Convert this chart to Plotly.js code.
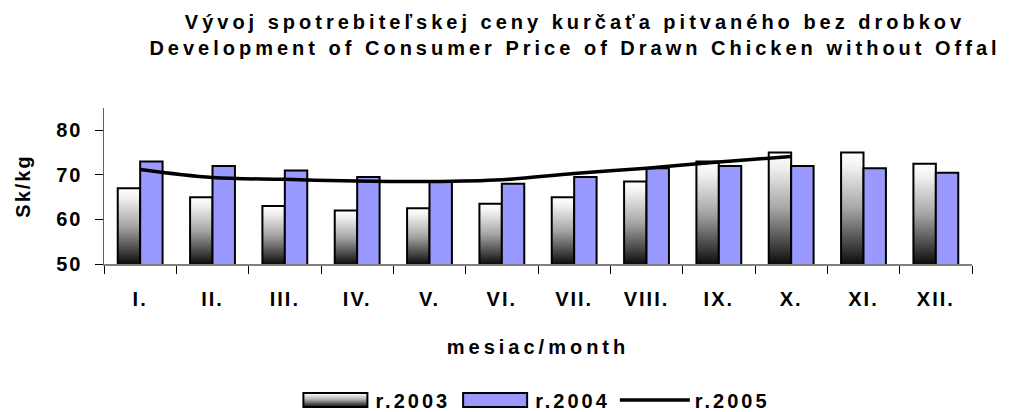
<!DOCTYPE html>
<html>
<head>
<meta charset="utf-8">
<script src="https://cdn.plot.ly/plotly-3.0.1.min.js"></script>
<style>
html,body{margin:0;padding:0;background:#fff;}
#chart{width:1010px;height:412px;}
.gtitle{letter-spacing:4px;}
.xtitle{letter-spacing:4px;}
.ytitle{letter-spacing:2px;}
.xtick text,.ytick text{letter-spacing:2px;}
.legendtext{letter-spacing:3px;}
</style>
</head>
<body>
<div id="chart"></div>
<script>
const months = ["I.","II.","III.","IV.","V.","VI.","VII.","VIII.","IX.","X.","XI.","XII."];
const r2003 = [67, 65, 63, 62, 62.5, 63.5, 65, 68.5, 73, 75, 75, 72.5];
const r2004 = [73, 72, 71, 69.5, 68.5, 68, 69.5, 71.5, 72, 72, 71.5, 70.5];
const months2005 = ["I.","II.","III.","IV.","V.","VI.","VII.","VIII.","IX.","X."];
const r2005 = [71.2, 69.4, 69.0, 68.6, 68.5, 68.9, 70.3, 71.5, 72.9, 74.1];
const yTicks = [50, 60, 70, 80];

const FONT = "Liberation Sans, Arial, sans-serif";
const FS = 20;

const traces = [
  {type:'bar', name:'r.2003', x:months, y:r2003,
   marker:{color:'#888888', line:{color:'#000000', width:2}}},
  {type:'bar', name:'r.2004', x:months, y:r2004,
   marker:{color:'#9999ff', line:{color:'#000000', width:2}}},
  {type:'scatter', mode:'lines', name:'r.2005', x:months2005, y:r2005,
   line:{color:'#000000', width:3.5, shape:'spline', smoothing:1}}
];

const layout = {
  width:1010, height:412,
  margin:{l:104, r:38, t:108, b:148},
  paper_bgcolor:'#ffffff', plot_bgcolor:'#ffffff',
  font:{family:FONT, size:FS, color:'#000000', weight:'bold'},
  title:{text:'Vývoj spotrebiteľskej ceny kurčaťa pitvaného bez drobkov<br>Development of Consumer Price of Drawn Chicken without Offal',
         font:{family:FONT, size:FS, color:'#000', weight:'bold'},
         x:575/1010, xanchor:'center', y:1-29/412, yanchor:'middle'},
  barmode:'group', bargap:0.38, bargroupgap:0,
  showlegend:true,
  legend:{orientation:'h', x:0.497, xanchor:'center', xref:'paper',
          yref:'container', y:1-400/412, yanchor:'middle',
          font:{family:FONT, size:FS, weight:'bold'}, itemwidth:70, traceorder:'normal'},
  xaxis:{type:'category', categoryorder:'array', categoryarray:months,
         tickson:'boundaries', ticks:'outside', ticklen:8, tickcolor:'#000', tickwidth:1,
         ticklabelstandoff:16,
         showline:true, linecolor:'#808080', linewidth:2, showgrid:false, zeroline:false,
         tickfont:{family:FONT, size:FS, weight:'bold'},
         title:{text:'mesiac/month', font:{family:FONT, size:FS, weight:'bold'}, standoff:31},
         automargin:false},
  yaxis:{range:[50,85], tickvals:yTicks, ticktext:yTicks.map(String),
         ticks:'outside', ticklen:8, tickcolor:'#000', tickwidth:1,
         ticklabelstandoff:8,
         showline:true, linecolor:'#606060', linewidth:1.5, showgrid:false, zeroline:false,
         tickfont:{family:FONT, size:FS, weight:'bold'},
         title:{text:'Sk/kg', font:{family:FONT, size:FS, weight:'bold'}, standoff:20},
         automargin:false}
};

Plotly.newPlot('chart', traces, layout, {staticPlot:true, displayModeBar:false, responsive:false}).then(function(gd){
  const svg = gd.querySelector('.main-svg');
  const ns = 'http://www.w3.org/2000/svg';
  const defs = document.createElementNS(ns,'defs');
  svg.insertBefore(defs, svg.firstChild);
  const stops = [[0,'#ffffff'],[0.12,'#f2f2f2'],[0.5,'#a6a6a6'],[0.85,'#3c3c3c'],[1,'#0c0c0c']];
  function makeGrad(id, units, y1, y2){
    const g = document.createElementNS(ns,'linearGradient');
    g.setAttribute('id', id);
    g.setAttribute('gradientUnits', units);
    g.setAttribute('x1','0'); g.setAttribute('x2','0');
    g.setAttribute('y1', y1); g.setAttribute('y2', y2);
    stops.forEach(function(s){
      const st = document.createElementNS(ns,'stop');
      st.setAttribute('offset', s[0]); st.setAttribute('stop-color', s[1]);
      g.appendChild(st);
    });
    defs.appendChild(g);
  }
  makeGrad('g2003', 'objectBoundingBox', '0', '1');
  const plotH = gd._fullLayout._size.h;
  const barTraces = gd.querySelectorAll('.barlayer .trace');
  if (barTraces[0]) barTraces[0].querySelectorAll('path').forEach(function(p, k){
    const bb = p.getBBox();
    const top = bb.y;
    const bottom = Math.min(bb.y + bb.height, plotH);
    const id = 'gbar' + k;
    makeGrad(id, 'userSpaceOnUse', String(top), String(bottom));
    p.style.fill = 'url(#' + id + ')';
  });
  const legTraces = gd.querySelectorAll('.legend .traces');
  legTraces.forEach(function(t, i){
    const pts = t.querySelectorAll('.legendpoints path');
    pts.forEach(function(p){
      if (i < 2) {
        p.setAttribute('d','M32,7H-32V-7H32Z');
        if (i === 0) p.style.fill = 'url(#g2003)';
      }
    });
  });
});
</script>
</body>
</html>
